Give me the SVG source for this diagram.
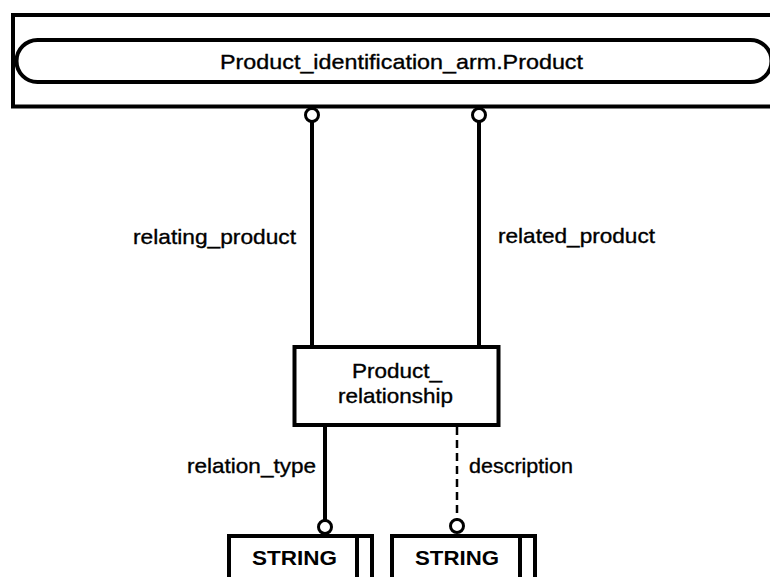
<svg xmlns="http://www.w3.org/2000/svg" width="770" height="577" viewBox="0 0 770 577">
<style>
.t{font-family:"Liberation Sans",Arial,sans-serif;font-size:21px;fill:#000;stroke:#000;stroke-width:0.35}
.s{font-family:"Liberation Sans",Arial,sans-serif;font-size:21px;font-weight:bold;fill:#000}
.box{fill:#fff;stroke:#000;stroke-width:4}
.ln{stroke:#000;stroke-width:4;fill:none}
.dl{stroke:#000;stroke-width:2.5;fill:none;stroke-dasharray:8 5}
.c{fill:#fff;stroke:#000;stroke-width:3}
</style>
<rect width="770" height="577" fill="#fff"/>
<g id="connectors">
<line class="ln" x1="312" y1="121" x2="312" y2="347"/>
<circle class="c" cx="312" cy="115" r="6.5"/>
<line class="ln" x1="479" y1="121" x2="479" y2="347"/>
<circle class="c" cx="479" cy="115" r="6.5"/>
<line class="ln" x1="325" y1="425" x2="325" y2="521"/>
<circle class="c" cx="325" cy="527" r="6.5"/>
<line class="dl" x1="457" y1="427" x2="457" y2="521"/>
<circle class="c" cx="457" cy="526" r="6.5"/>
<text class="t" x="133" y="243.5" textLength="163" lengthAdjust="spacingAndGlyphs">relating_product</text>
<text class="t" x="498" y="243" textLength="157" lengthAdjust="spacingAndGlyphs">related_product</text>
<text class="t" x="187" y="473" textLength="129" lengthAdjust="spacingAndGlyphs">relation_type</text>
<text class="t" x="469" y="473" textLength="104" lengthAdjust="spacingAndGlyphs">description</text>
</g>
<g id="product">
<rect class="box" x="13" y="15" width="800" height="91.5"/>
<rect class="box" x="16.5" y="40" width="755" height="42" rx="21" ry="21"/>
<text class="t" x="220" y="68.5" textLength="363" lengthAdjust="spacingAndGlyphs">Product_identification_arm.Product</text>
</g>
<g id="product_relationship">
<rect class="box" x="294.5" y="347" width="204" height="78"/>
<text class="t" x="352" y="377.5" textLength="90" lengthAdjust="spacingAndGlyphs">Product_</text>
<text class="t" x="338" y="403" textLength="115" lengthAdjust="spacingAndGlyphs">relationship</text>
</g>
<g id="string1">
<rect class="box" x="229" y="536" width="143" height="60"/>
<line class="ln" x1="357" y1="536" x2="357" y2="590"/>
<text class="s" x="252" y="565" textLength="85" lengthAdjust="spacingAndGlyphs">STRING</text>
</g>
<g id="string2">
<rect class="box" x="392" y="536" width="143" height="60"/>
<line class="ln" x1="520" y1="536" x2="520" y2="590"/>
<text class="s" x="415" y="565" textLength="84" lengthAdjust="spacingAndGlyphs">STRING</text>
</g>
</svg>
